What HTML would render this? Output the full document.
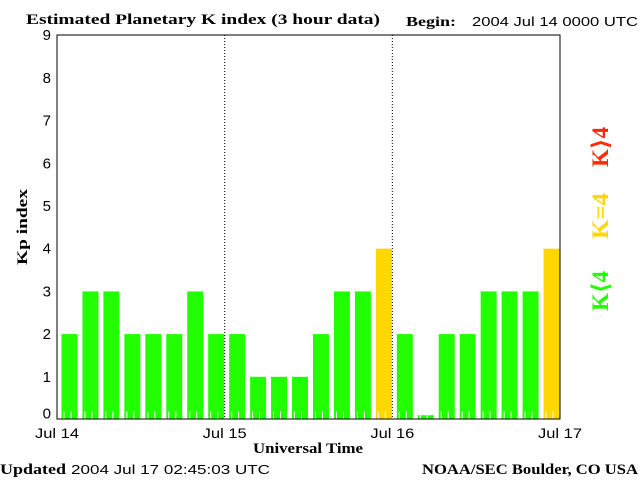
<!DOCTYPE html>
<html><head><meta charset="utf-8"><style>
body{margin:0;background:#fff;}
svg{display:block;}
.serif{font-family:"Liberation Serif","DejaVu Serif",serif;font-weight:bold;}
.sans{font-family:"Liberation Sans","DejaVu Sans",sans-serif;}
</style></head><body>
<svg id="chart" width="640" height="480" viewBox="0 0 640 480">
<text class="serif" x="26" y="24" font-size="15" textLength="354" lengthAdjust="spacingAndGlyphs">Estimated Planetary K index (3 hour data)</text>
<text class="serif" x="406" y="26" font-size="14" textLength="50" lengthAdjust="spacingAndGlyphs">Begin:</text>
<text class="sans" x="472" y="26" font-size="13" textLength="166" lengthAdjust="spacingAndGlyphs">2004 Jul 14 0000 UTC</text>
<g id="bars"></g>
<g id="grid"></g>
<rect x="57" y="35" width="503" height="384" fill="none" stroke="#000" stroke-width="1"/>
<g id="yticks"></g>
<g id="xticks"></g>
<text class="serif" x="27" y="227" font-size="15" text-anchor="middle" textLength="76" lengthAdjust="spacingAndGlyphs" transform="rotate(-90 27 227)">Kp index</text>
<text class="serif" x="308" y="453" font-size="15" text-anchor="middle" textLength="110" lengthAdjust="spacingAndGlyphs">Universal Time</text>
<text class="serif" x="0" y="474" font-size="15" textLength="66" lengthAdjust="spacingAndGlyphs">Updated</text>
<text class="sans" x="71" y="474" font-size="13" textLength="199" lengthAdjust="spacingAndGlyphs">2004 Jul 17 02:45:03 UTC</text>
<text class="serif" x="422" y="474" font-size="15" textLength="216" lengthAdjust="spacingAndGlyphs">NOAA/SEC Boulder, CO USA</text>
<text class="serif" x="608" y="147" font-size="23" fill="#ff2a00" text-anchor="middle" textLength="40" lengthAdjust="spacingAndGlyphs" transform="rotate(-90 608 147)">K⟩4</text>
<text class="serif" x="608" y="216" font-size="23" fill="#ffd700" text-anchor="middle" textLength="46" lengthAdjust="spacingAndGlyphs" transform="rotate(-90 608 216)">K=4</text>
<text class="serif" x="608" y="291" font-size="23" fill="#22ff00" text-anchor="middle" textLength="40" lengthAdjust="spacingAndGlyphs" transform="rotate(-90 608 291)">K⟨4</text>
</svg>
<script>
const kpValues = [2,3,3,2,2,2,3,2, 2,1,1,1,2,3,3,4, 2,0.1,2,2,3,3,3,4];
const yTickLabels = ["0","1","2","3","4","5","6","7","8","9"];
const dayLabels = ["Jul 14","Jul 15","Jul 16","Jul 17"];
const NS="http://www.w3.org/2000/svg";
const x0=57,x1=560,yb=419.5,unit=42.7;
const slotW=(x1-x0)/kpValues.length;
function xs(i){return x0+i*slotW;}
function ys(v){return yb-v*unit;}
function mk(t,a,p){const e=document.createElementNS(NS,t);for(const k in a)e.setAttribute(k,a[k]);p.appendChild(e);return e;}
const bars=document.getElementById('bars');
kpValues.forEach((v,i)=>{
  const col=v>4?'#ff2a00':(v>=4?'#ffd700':'#22ff00');
  const r=mk('rect',{x:xs(i)+4.5,y:ys(v),width:slotW-5,height:yb-ys(v),fill:col},bars);
  
  
});
const grid=document.getElementById('grid');
for(let h=1;h<kpValues.length*3;h++){
  const x=x0+h*slotW/3;
  if(h%24===0){
    const l=mk('line',{x1:x,x2:x,y1:35,y2:yb,stroke:'#000','stroke-dasharray':'1,2'},grid);
    
    
  } else if(h%3!==0){
    const l=mk('line',{x1:x,x2:x,y1:yb-8,y2:yb,stroke:'#fff'},grid);
    
    
  }
}
const yt=document.getElementById('yticks');
yTickLabels.forEach((s,i)=>{
  const t=mk('text',{x:51,y:ys(i)+5-(i===0?6:0),'font-size':15,'text-anchor':'end',class:'sans'},yt);
  t.textContent=s;
  
  
});
const xt=document.getElementById('xticks');
dayLabels.forEach((s,i)=>{
  const t=mk('text',{x:x0+i*(x1-x0)/3,y:438,'font-size':14,'text-anchor':'middle',textLength:44,lengthAdjust:'spacingAndGlyphs',class:'sans'},xt);
  t.textContent=s;
  
  
});
</script>
</body></html>
